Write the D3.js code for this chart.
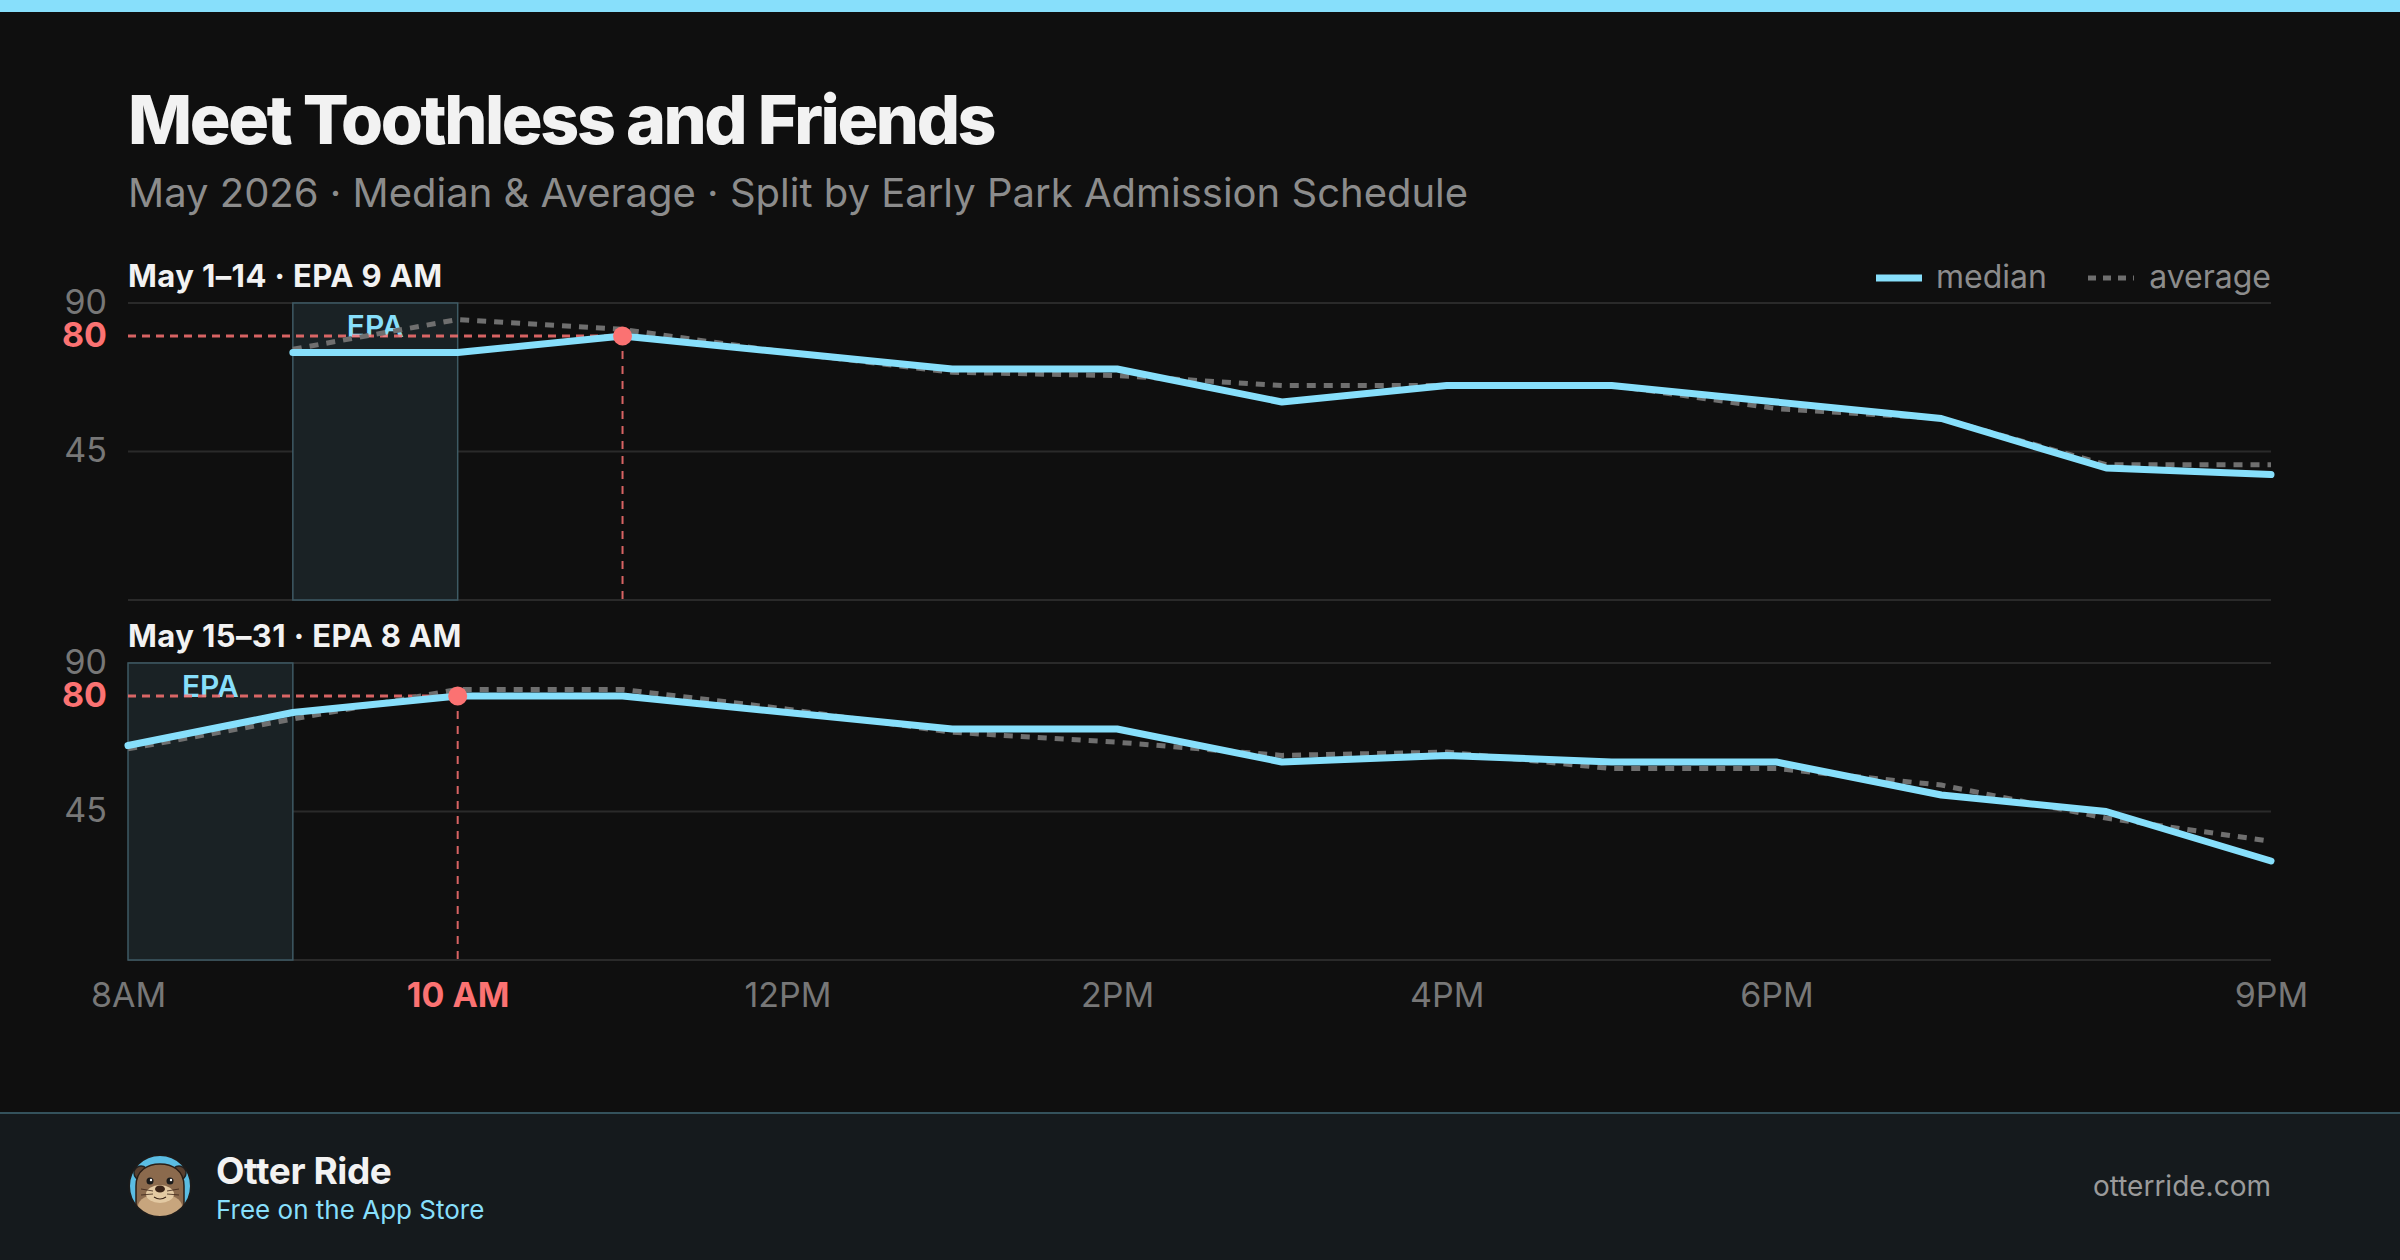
<!DOCTYPE html>
<html>
<head>
<meta charset="utf-8">
<script src="https://cdn.jsdelivr.net/npm/d3@7"></script>
<style>
  html, body { margin: 0; padding: 0; background: #0f0f0f; }
  svg { display: block; }
  svg text { font-family: Inter, "Noto Sans", "DejaVu Sans", sans-serif; }
</style>
</head>
<body>
<svg id="chart" width="2400" height="1260"></svg>
<script>
// ---------------- DATA ----------------
const hours = [8, 9, 10, 11, 12, 13, 14, 15, 16, 17, 18, 19, 20, 21];
const tickHours = [8, 10, 12, 14, 16, 18, 21];
const tickLabels = ["8AM", "10 AM", "12PM", "2PM", "4PM", "6PM", "9PM"];
const highlightTick = 10;
const yTickValues = [90, 80, 45];
const gridValues = [90, 45, 0];
const panelTitles = ["May 1–14 · EPA 9 AM", "May 15–31 · EPA 8 AM"];
const epaWindows = [[9, 10], [8, 9]];
const peakHours = [11, 10];
const peakValue = 80;
const early_median = [null, 75, 75, 80, 75, 70, 70, 60, 65, 65, 60, 55, 40, 38];
const early_average = [null, 76, 85, 82, 75, 69, 68, 65, 65, 65, 58, 55, 41, 41];
const late_median = [65, 75, 80, 80, 75, 70, 70, 60, 62, 60, 60, 50, 45, 30];
const late_average = [64, 73, 82, 82, 76, 69, 66, 62, 63, 58, 58, 53, 43, 36];
const legendLabels = ["median", "average"];
const titleText = "Meet Toothless and Friends";
const subtitleText = "May 2026 · Median & Average · Split by Early Park Admission Schedule";

// ---------------- STYLE ----------------
const C = {
  bg: "#0f0f0f", accent: "#87dffb", red: "#fb7272", grid: "#2a2a2a",
  avg: "#6f6f6f", muted: "#777777", sub: "#8c8c8c", white: "#f2f2f2",
  epaFill: "#1a2225", epaStroke: "#3e5a64", footer: "#151a1d", footerLine: "#34525c"
};

const svg = d3.select("#chart");
svg.append("rect").attr("width", 2400).attr("height", 1260).attr("fill", C.bg);
svg.append("rect").attr("width", 2400).attr("height", 12).attr("fill", C.accent);

svg.append("text").attr("x", 128).attr("y", 144).attr("fill", C.white)
  .attr("font-size", 68).attr("font-weight", 800).attr("letter-spacing", "-2.4")
  .text(titleText);
svg.append("text").attr("x", 128).attr("y", 207).attr("fill", C.sub)
  .attr("font-size", 40).attr("font-weight", 400)
  .text(subtitleText);

const left = 128, right = 2271;
const x = d3.scaleLinear().domain([8, 21]).range([left, right]);

const panels = [
  { top: 303, bottom: 600, median: early_median, average: early_average },
  { top: 663, bottom: 960, median: late_median, average: late_average }
];

panels.forEach((p, i) => {
  const y = d3.scaleLinear().domain([0, 90]).range([p.bottom, p.top]);
  const g = svg.append("g");

  g.append("text").attr("x", left).attr("y", p.top - 16).attr("fill", C.white)
    .attr("font-size", 31).attr("font-weight", 700).attr("letter-spacing", "0.4")
    .text(panelTitles[i]);

  // gridlines
  g.selectAll("line.grid").data(gridValues).join("line")
    .attr("x1", left).attr("x2", right)
    .attr("y1", d => y(d)).attr("y2", d => y(d))
    .attr("stroke", C.grid).attr("stroke-width", 2);

  // EPA window
  const w = epaWindows[i];
  g.append("rect").attr("x", x(w[0])).attr("y", y(90))
    .attr("width", x(w[1]) - x(w[0])).attr("height", y(0) - y(90))
    .attr("fill", C.epaFill).attr("stroke", C.epaStroke).attr("stroke-width", 1.5);
  g.append("text").attr("x", (x(w[0]) + x(w[1])) / 2).attr("y", y(90) + 34)
    .attr("text-anchor", "middle").attr("fill", C.accent)
    .attr("font-size", 30).attr("font-weight", 600).text("EPA");

  // y axis
  const yAxis = d3.axisLeft(y).tickValues(yTickValues).tickSize(0).tickPadding(21);
  const ya = g.append("g").attr("transform", `translate(${left},0)`).call(yAxis);
  ya.select(".domain").remove();
  ya.selectAll("text")
    .attr("font-size", 34)
    .attr("fill", d => d === peakValue ? C.red : C.muted)
    .attr("font-weight", d => d === peakValue ? 700 : 400)
    .attr("dy", "0.3em")
    .style("font-family", "Inter, sans-serif");

  // reference lines
  const px = x(peakHours[i]), py = y(peakValue);
  g.append("line").attr("x1", left).attr("x2", px).attr("y1", py).attr("y2", py)
    .attr("stroke", C.red).attr("stroke-width", 3).attr("stroke-dasharray", "8,6")
    .attr("opacity", 0.85);
  g.append("line").attr("x1", px).attr("x2", px).attr("y1", py).attr("y2", y(0))
    .attr("stroke", C.red).attr("stroke-width", 2).attr("stroke-dasharray", "8,7")
    .attr("opacity", 0.85);

  const line = d3.line().defined(d => d[1] != null)
    .x(d => x(d[0])).y(d => y(d[1]));

  g.append("path").datum(hours.map((h, k) => [h, p.average[k]]))
    .attr("d", line).attr("fill", "none").attr("stroke", C.avg)
    .attr("stroke-width", 5).attr("stroke-dasharray", "9,8");
  g.append("path").datum(hours.map((h, k) => [h, p.median[k]]))
    .attr("d", line).attr("fill", "none").attr("stroke", C.accent)
    .attr("stroke-width", 7).attr("stroke-linecap", "round").attr("stroke-linejoin", "round");

  g.append("circle").attr("cx", px).attr("cy", py).attr("r", 9.5).attr("fill", C.red);

  if (i === 1) {
    const xAxis = d3.axisBottom(x).tickValues(tickHours)
      .tickFormat((d, k) => tickLabels[k]).tickSize(0).tickPadding(23);
    const xa = g.append("g").attr("transform", `translate(0,${p.bottom})`).call(xAxis);
    xa.select(".domain").remove();
    xa.selectAll("text")
      .attr("font-size", 34)
      .attr("fill", d => d === highlightTick ? C.red : C.muted)
      .attr("font-weight", d => d === highlightTick ? 700 : 400)
      .attr("dy", "0.71em")
      .style("font-family", "Inter, sans-serif");
  }

  if (i === 0) {
    // legend
    const lg = g.append("g");
    lg.append("line").attr("x1", 1876).attr("x2", 1922).attr("y1", 278).attr("y2", 278)
      .attr("stroke", C.accent).attr("stroke-width", 7);
    lg.append("text").attr("x", 1936).attr("y", 288).attr("fill", C.sub)
      .attr("font-size", 32).text(legendLabels[0]);
    lg.append("line").attr("x1", 2088).attr("x2", 2134).attr("y1", 278).attr("y2", 278)
      .attr("stroke", C.avg).attr("stroke-width", 5).attr("stroke-dasharray", "8,7");
    lg.append("text").attr("x", 2271).attr("y", 288).attr("text-anchor", "end").attr("fill", C.sub)
      .attr("font-size", 32).text(legendLabels[1]);
  }
});

// ---------------- FOOTER ----------------
svg.append("rect").attr("x", 0).attr("y", 1113).attr("width", 2400).attr("height", 147).attr("fill", C.footer);
svg.append("line").attr("x1", 0).attr("x2", 2400).attr("y1", 1113).attr("y2", 1113)
  .attr("stroke", C.footerLine).attr("stroke-width", 2);

const logo = svg.append("g").attr("transform", "translate(160,1186)");
const defs = svg.append("defs");
defs.append("clipPath").attr("id", "logoClip").append("circle").attr("r", 31);
logo.append("circle").attr("r", 31).attr("fill", "#5bbde3");
const lc = logo.append("g").attr("clip-path", "url(#logoClip)");
lc.append("circle").attr("cx", -19).attr("cy", -13).attr("r", 7).attr("fill", "#5a4130").attr("stroke", "#222").attr("stroke-width", 1.5);
lc.append("circle").attr("cx", 19).attr("cy", -13).attr("r", 7).attr("fill", "#5a4130").attr("stroke", "#222").attr("stroke-width", 1.5);
lc.append("path").attr("d", "M-24,40 L-24,0 C-24,-16 -12,-22 0,-22 C12,-22 24,-16 24,0 L24,40 Z")
  .attr("fill", "#8b6a4d").attr("stroke", "#2a1e16").attr("stroke-width", 1.5);
lc.append("ellipse").attr("cx", 0).attr("cy", 20).attr("rx", 22).attr("ry", 12).attr("fill", "#c7a57d");
lc.append("ellipse").attr("cx", 0).attr("cy", 8).attr("rx", 14).attr("ry", 9).attr("fill", "#e3c9a2");
lc.append("circle").attr("cx", -10).attr("cy", -5).attr("r", 3.5).attr("fill", "#1a1a1a");
lc.append("circle").attr("cx", 10).attr("cy", -5).attr("r", 3.5).attr("fill", "#1a1a1a");
lc.append("circle").attr("cx", -9).attr("cy", -6).attr("r", 1.2).attr("fill", "#fff");
lc.append("circle").attr("cx", 11).attr("cy", -6).attr("r", 1.2).attr("fill", "#fff");
lc.append("ellipse").attr("cx", 0).attr("cy", 3).attr("rx", 5).attr("ry", 3.5).attr("fill", "#3b2418");
lc.append("path").attr("d", "M-6,11 Q0,15 6,11").attr("fill", "none").attr("stroke", "#3b2418").attr("stroke-width", 1.2);
[[-1, 5], [-1, 8], [1, 5], [1, 8]].forEach(([s, yy]) => {
  lc.append("line").attr("x1", s * 7).attr("x2", s * 19).attr("y1", yy).attr("y2", yy - 1 + (yy - 6))
    .attr("stroke", "#3b2418").attr("stroke-width", 0.8);
});
logo.append("circle").attr("r", 31).attr("fill", "none").attr("stroke", "#1b1b1b").attr("stroke-width", 2);

svg.append("text").attr("x", 216).attr("y", 1184).attr("fill", C.white)
  .attr("font-size", 37).attr("font-weight", 700).attr("letter-spacing", "-0.4").text("Otter Ride");
svg.append("text").attr("x", 216).attr("y", 1219).attr("fill", C.accent)
  .attr("font-size", 26).attr("font-weight", 400).text("Free on the App Store");
svg.append("text").attr("x", 2271).attr("y", 1196).attr("text-anchor", "end").attr("fill", "#9a9a9a")
  .attr("font-size", 28).attr("font-weight", 400).text("otterride.com");
</script>
</body>
</html>
